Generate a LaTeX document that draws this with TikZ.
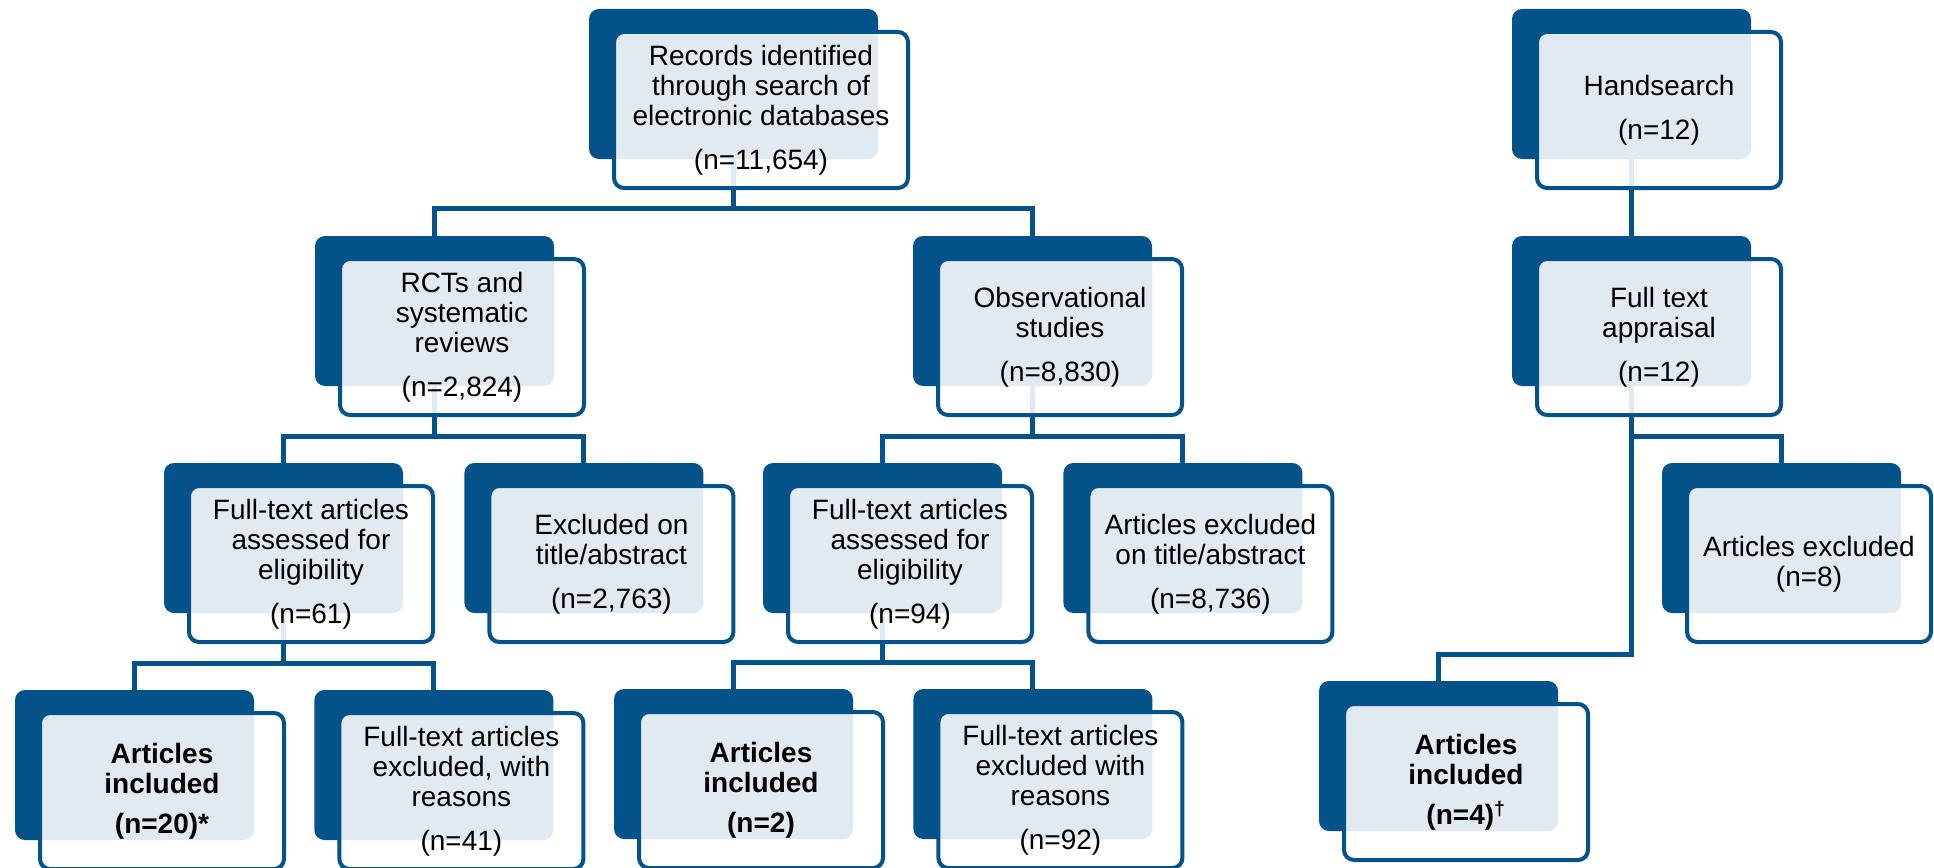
\documentclass[tikz,border=0pt]{standalone}
\usepackage{fontspec}
\setmainfont{Liberation Sans}
\usetikzlibrary{positioning}
\pgfdeclarelayer{background}
\pgfsetlayers{background,main}
\definecolor{boxblue}{RGB}{3,83,138}

\begin{document}
\begin{tikzpicture}[x=1pt, y=-1pt, node distance=61pt,
        back/.style={rectangle, fill=boxblue, rounded corners=10pt, minimum width=239pt, minimum height=150pt, inner sep=0pt},
        front/.style={rectangle, draw=boxblue, line width=4pt, fill=white, fill opacity=0.88, text opacity=1, rounded corners=10pt, minimum width=244pt, minimum height=156pt, align=center, inner sep=0pt, font=\fontsize{28}{30}\selectfont},
        bold/.style={front, font=\fontsize{28}{30}\selectfont\bfseries},
        link/.style={draw=boxblue, line width=5pt}]

    \useasboundingbox (0,0) rectangle (1934,867);

    \node[back, minimum width=289pt] (records) at (733.5,84) {};
    \node[front, minimum width=294pt] (records-txt) at ([shift={(27.5,26)}]records.center) {Records identified\\through search of\\electronic databases\\[14pt](n=11,654)};
    \node[back] (hand) at (1631.5,84) {};
    \node[front] (hand-txt) at ([shift={(27.5,26)}]hand.center) {Handsearch\\[14pt](n=12)};

    \node[back] (rcts) at (434.5,311) {};
    \node[front] (rcts-txt) at ([shift={(27.5,26)}]rcts.center) {RCTs and\\systematic\\reviews\\[14pt](n=2,824)};
    \node[back] (obs) at (1032.5,311) {};
    \node[front] (obs-txt) at ([shift={(27.5,26)}]obs.center) {Observational\\studies\\[14pt](n=8,830)};
    \node[back] (appraisal) at (1631.5,311) {};
    \node[front] (appraisal-txt) at ([shift={(27.5,26)}]appraisal.center) {Full text\\appraisal\\[14pt](n=12)};

    \node[back] (fta1) at (283.5,538) {};
    \node[front] (fta1-txt) at ([shift={(27.5,26)}]fta1.center) {Full-text articles\\assessed for\\eligibility\\[14pt](n=61)};
    \node[back, right=of fta1] (excl1) {};
    \node[front] (excl1-txt) at ([shift={(27.5,26)}]excl1.center) {Excluded on\\title/abstract\\[14pt](n=2,763)};
    \node[back] (fta2) at (882.5,538) {};
    \node[front] (fta2-txt) at ([shift={(27.5,26)}]fta2.center) {Full-text articles\\assessed for\\eligibility\\[14pt](n=94)};
    \node[back, right=of fta2] (excl2) {};
    \node[front] (excl2-txt) at ([shift={(27.5,26)}]excl2.center) {Articles excluded\\on title/abstract\\[14pt](n=8,736)};
    \node[back] (excl3) at (1781.5,538) {};
    \node[front] (excl3-txt) at ([shift={(27.5,26)}]excl3.center) {Articles excluded\\(n=8)};

    \node[back] (incl1) at (134.5,765) {};
    \node[bold] (incl1-txt) at ([shift={(27.5,26)}]incl1.center) {Articles\\included\\[10pt](n=20)*};
    \node[back, right=60pt of incl1] (reas1) {};
    \node[front] (reas1-txt) at ([shift={(27.5,26)}]reas1.center) {Full-text articles\\excluded, with\\reasons\\[14pt](n=41)};
    \node[back] (incl2) at (733.5,764) {};
    \node[bold] (incl2-txt) at ([shift={(27.5,26)}]incl2.center) {Articles\\included\\[10pt](n=2)};
    \node[back, right=60pt of incl2] (reas2) {};
    \node[front] (reas2-txt) at ([shift={(27.5,26)}]reas2.center) {Full-text articles\\excluded with\\reasons\\[14pt](n=92)};
    \node[back] (incl3) at (1438.5,756) {};
    \node[bold] (incl3-txt) at ([shift={(27.5,26)}]incl3.center) {Articles\\included\\[10pt](n=4)\textsuperscript{†}};

    \begin{pgfonlayer}{background}
        \draw[link] (records.south) |- ([yshift=27pt]rcts.north) -- (rcts.north);
        \draw[link] (records.south) |- ([yshift=27pt]obs.north) -- (obs.north);
        \draw[link] (rcts.south) |- ([yshift=26pt]fta1.north) -- (fta1.north);
        \draw[link] (rcts.south) |- ([yshift=26pt]excl1.north) -- (excl1.north);
        \draw[link] (obs.south) |- ([yshift=26pt]fta2.north) -- (fta2.north);
        \draw[link] (obs.south) |- ([yshift=26pt]excl2.north) -- (excl2.north);
        \draw[link] (fta1.south) |- ([yshift=26pt]incl1.north) -- (incl1.north);
        \draw[link] (fta1.south) |- ([yshift=26pt]reas1.north) -- (reas1.north);
        \draw[link] (fta2.south) |- ([yshift=26pt]incl2.north) -- (incl2.north);
        \draw[link] (fta2.south) |- ([yshift=26pt]reas2.north) -- (reas2.north);
        \draw[link] (hand.south) -- (appraisal.north);
        \draw[link] (appraisal.south) |- ([yshift=26pt]excl3.north) -- (excl3.north);
        \draw[link] (appraisal.south) |- ([yshift=26pt]incl3.north) -- (incl3.north);
    \end{pgfonlayer}
\end{tikzpicture}
\end{document}
